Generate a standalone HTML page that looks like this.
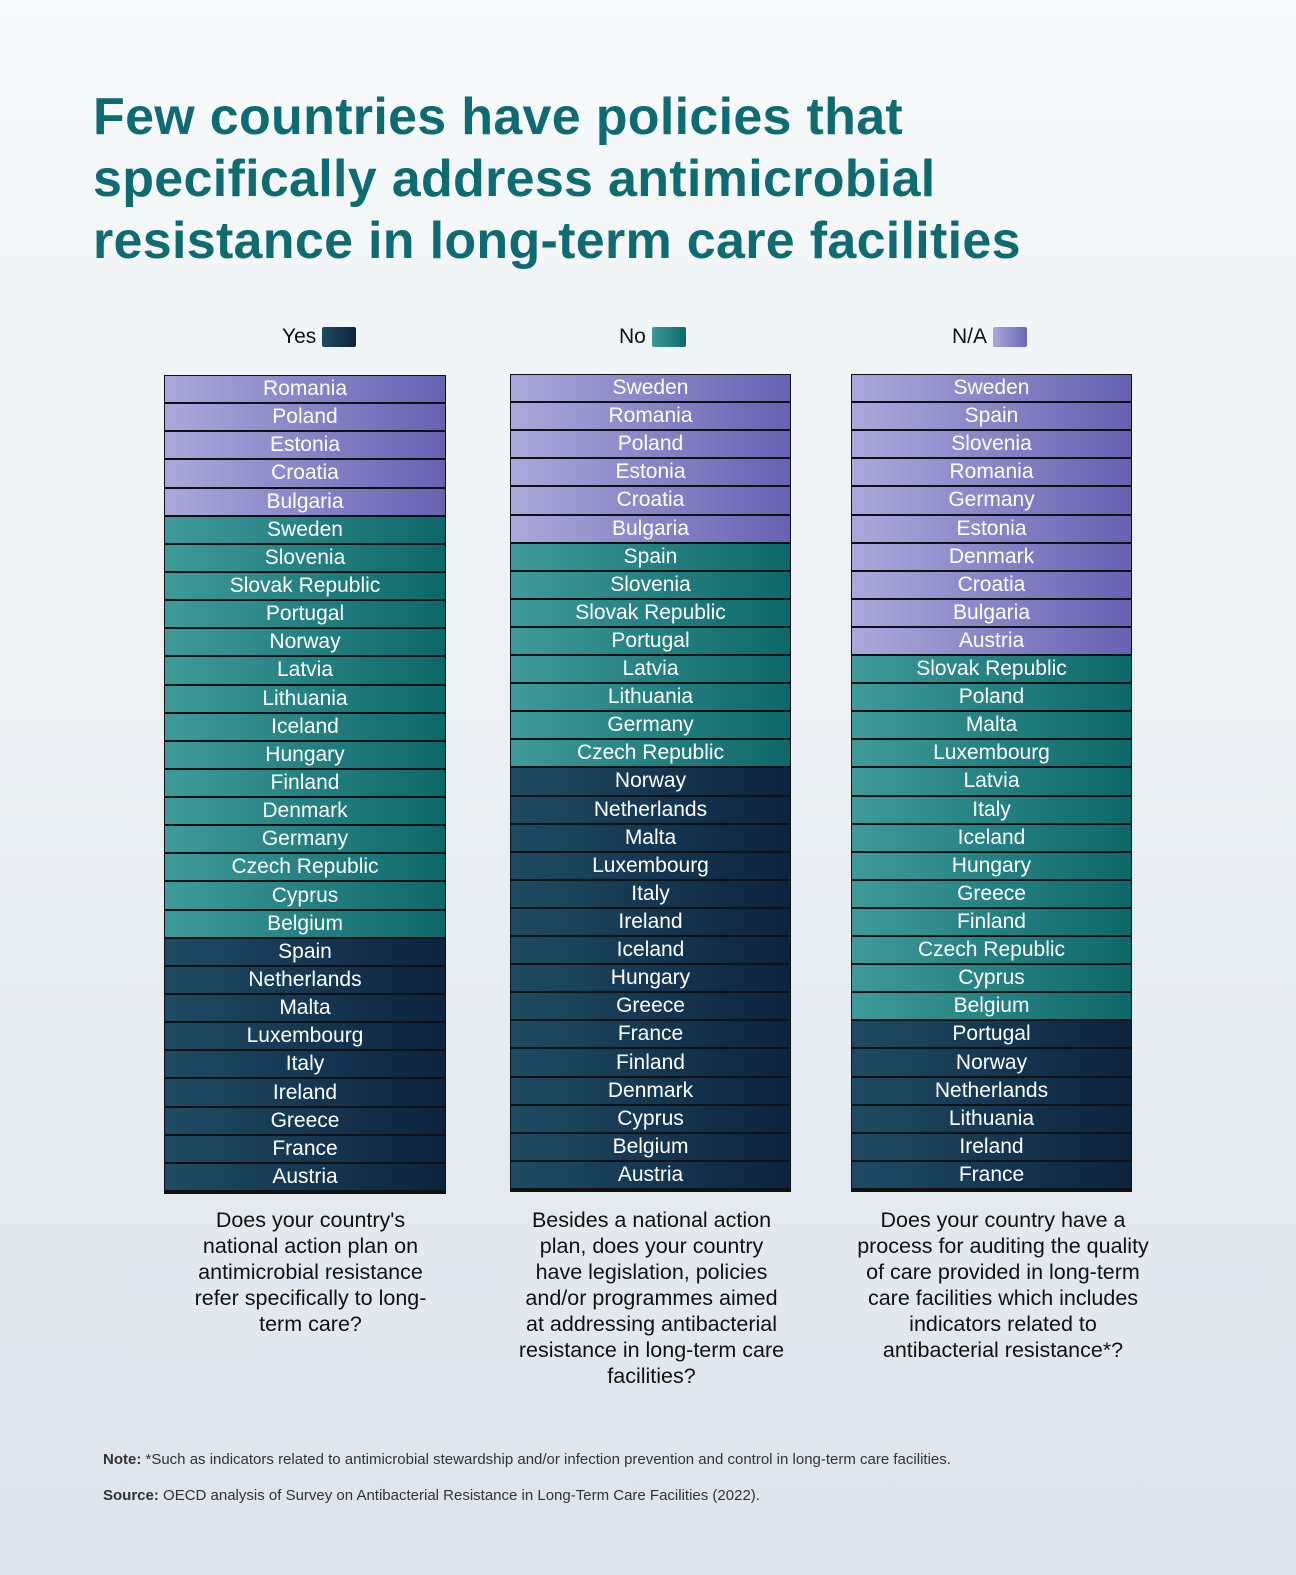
<!DOCTYPE html>
<html><head><meta charset="utf-8">
<style>
body{margin:0;width:1296px;height:1575px;overflow:hidden;font-family:"Liberation Sans",sans-serif;background:linear-gradient(180deg,#f7f9fa 0%,#eef2f5 40%,#dde4ec 100%);position:relative}
h1{position:absolute;left:93px;top:86px;margin:0;font-size:52px;line-height:62px;font-weight:bold;color:#0e6b72;letter-spacing:0.3px;width:1150px;white-space:nowrap}
.leg{position:absolute;top:325px;font-size:21px;color:#111;display:flex;align-items:center;gap:6px}
.sw{width:34px;height:20px;border-radius:2px;display:inline-block}
.col{position:absolute;border:1.5px solid #111;box-sizing:border-box;background:#111}
.row{position:absolute;left:0;right:0;color:#fff;text-align:center;font-size:21px;box-sizing:border-box;border-bottom:2px solid #111;display:flex;align-items:center;justify-content:center}
.q{position:absolute;top:1207px;width:265px;text-align:center;font-size:21.5px;line-height:26px;color:#111}
.foot{position:absolute;left:103px;font-size:15px;color:#333}
</style></head><body>
<h1>Few countries have policies that<br>specifically address antimicrobial<br>resistance in long-term care facilities</h1>
<div class="leg" style="left:282px">Yes <span class="sw" style="background:linear-gradient(90deg,#1d4a62,#0e2440)"></span></div>
<div class="leg" style="left:619px">No <span class="sw" style="background:linear-gradient(90deg,#3d9898,#0e6b6b)"></span></div>
<div class="leg" style="left:952px">N/A <span class="sw" style="background:linear-gradient(90deg,#aaa8da,#6a68b6)"></span></div>
<div id="cols"></div>
<div class="q" style="left:178px">Does your country's national action plan on antimicrobial resistance refer specifically to long-term care?</div>
<div class="q" style="left:514px;width:275px">Besides a national action plan, does your country have legislation, policies and/or programmes aimed at addressing antibacterial resistance in long-term care facilities?</div>
<div class="q" style="left:853px;width:300px">Does your country have a process for auditing the quality of care provided in long-term care facilities which includes indicators related to antibacterial resistance*?</div>
<div class="foot" style="top:1451px"><b>Note:</b> *Such as indicators related to antimicrobial stewardship and/or infection prevention and control in long-term care facilities.</div>
<div class="foot" style="top:1487px"><b>Source:</b> OECD analysis of Survey on Antibacterial Resistance in Long-Term Care Facilities (2022).</div>
<script>
const col1NA=["Romania","Poland","Estonia","Croatia","Bulgaria"];
const col1No=["Sweden","Slovenia","Slovak Republic","Portugal","Norway","Latvia","Lithuania","Iceland","Hungary","Finland","Denmark","Germany","Czech Republic","Cyprus","Belgium"];
const col1Yes=["Spain","Netherlands","Malta","Luxembourg","Italy","Ireland","Greece","France","Austria"];
const col2NA=["Sweden","Romania","Poland","Estonia","Croatia","Bulgaria"];
const col2No=["Spain","Slovenia","Slovak Republic","Portugal","Latvia","Lithuania","Germany","Czech Republic"];
const col2Yes=["Norway","Netherlands","Malta","Luxembourg","Italy","Ireland","Iceland","Hungary","Greece","France","Finland","Denmark","Cyprus","Belgium","Austria"];
const col3NA=["Sweden","Spain","Slovenia","Romania","Germany","Estonia","Denmark","Croatia","Bulgaria","Austria"];
const col3No=["Slovak Republic","Poland","Malta","Luxembourg","Latvia","Italy","Iceland","Hungary","Greece","Finland","Czech Republic","Cyprus","Belgium"];
const col3Yes=["Portugal","Norway","Netherlands","Lithuania","Ireland","France"];
const grads={na:"linear-gradient(90deg,#aba9db,#6562b2)",no:"linear-gradient(90deg,#3f9a9a,#0c6869)",yes:"linear-gradient(90deg,#1e4b63,#0d2340)"};
const specs=[[164,375,446,1194,col1NA,col1No,col1Yes],[510,374,791,1192,col2NA,col2No,col2Yes],[851,374,1132,1192,col3NA,col3No,col3Yes]];
const host=document.getElementById('cols');
specs.forEach((s,ci)=>{
  const c=document.createElement('div');
  c.className='col';
  
  
  c.style.left=s[0]+'px';c.style.top=s[1]+'px';c.style.width=(s[2]-s[0])+'px';c.style.height=(s[3]-s[1])+'px';
  const items=[...s[4].map(n=>[n,'na']),...s[5].map(n=>[n,'no']),...s[6].map(n=>[n,'yes'])];
  const h=(s[3]-s[1]-3)/items.length;
  items.forEach((it,i)=>{
    const r=document.createElement('div');
    r.className='row';
    
    
    r.style.top=(i*h)+'px';r.style.height=h+'px';r.style.background=grads[it[1]];
    r.textContent=it[0];
    c.appendChild(r);
  });
  host.appendChild(c);
});
</script>
</body></html>
